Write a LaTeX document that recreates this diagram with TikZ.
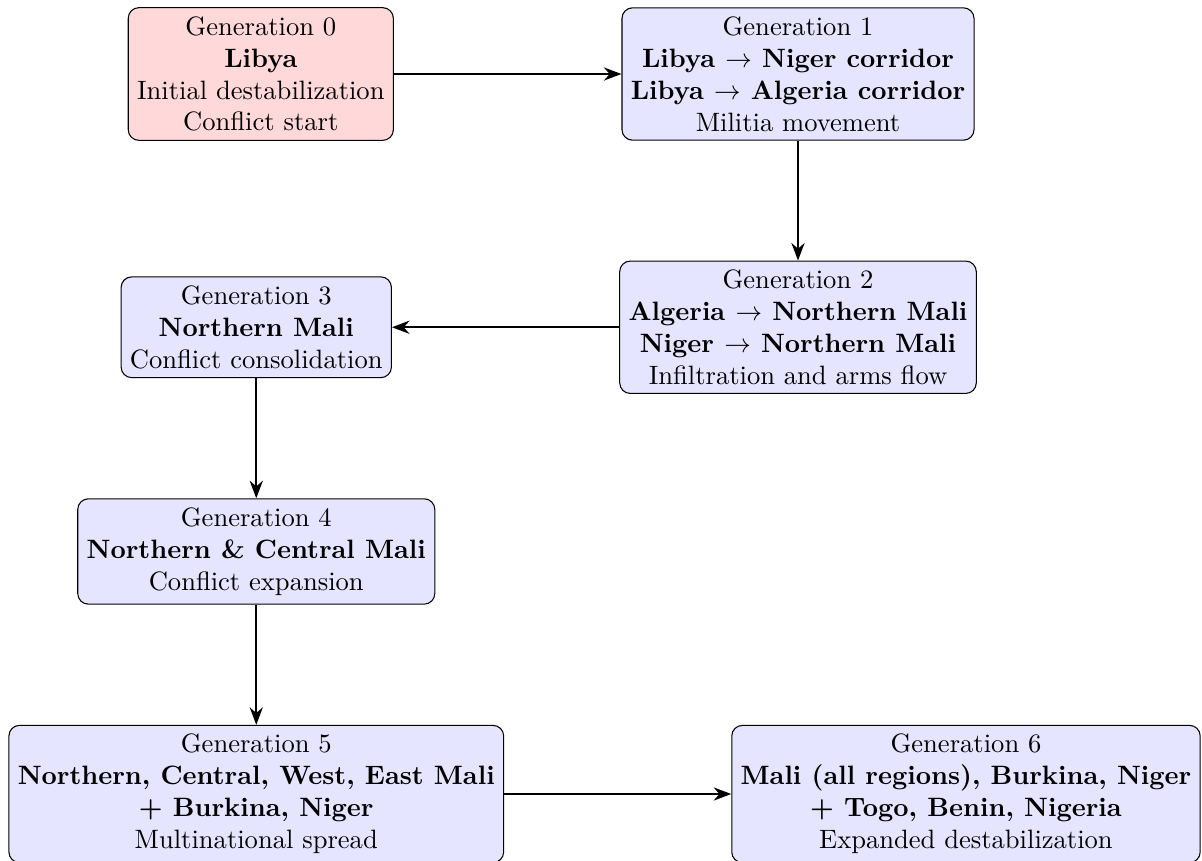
\documentclass[tikz,border=0pt]{standalone}
\usetikzlibrary{arrows.meta}
\begin{document}
\begin{tikzpicture}[
    gen/.style={draw,rounded corners,fill=blue!10,align=center},
    origin/.style={gen,fill=red!15},
    flow/.style={thick,-{Stealth}}
    ]
    \useasboundingbox (0,0) rectangle (15.90,11.389);

    \node[origin] (g0) at (3.45,10.41) {Generation 0\\\textbf{Libya}\\Initial destabilization\\Conflict start};
    \node[gen] (g1) at (10.556,10.41) {Generation 1\\\textbf{Libya $\rightarrow$ Niger corridor}\\\textbf{Libya $\rightarrow$ Algeria corridor}\\Militia movement};
    \node[gen] (g2) at (10.556,7.06) {Generation 2\\\textbf{Algeria $\rightarrow$ Northern Mali}\\\textbf{Niger $\rightarrow$ Northern Mali}\\Infiltration and arms flow};
    \node[gen] (g3) at (3.39,7.06) {Generation 3\\\textbf{Northern Mali}\\Conflict consolidation};
    \node[gen] (g4) at (3.39,4.094) {Generation 4\\\textbf{Northern \& Central Mali}\\Conflict expansion};
    \node[gen] (g5) at (3.39,0.886) {Generation 5\\\textbf{Northern, Central, West, East Mali}\\\textbf{+ Burkina, Niger}\\Multinational spread};
    \node[gen] (g6) at (12.778,0.886) {Generation 6\\\textbf{Mali (all regions), Burkina, Niger}\\\textbf{+ Togo, Benin, Nigeria}\\Expanded destabilization};

    \draw[flow] (g0) -- (g1);
    \draw[flow] (g1) -- (g2);
    \draw[flow] (g2) -- (g3);
    \draw[flow] (g3) -- (g4);
    \draw[flow] (g4) -- (g5);
    \draw[flow] (g5) -- (g6);
\end{tikzpicture}
\end{document}
